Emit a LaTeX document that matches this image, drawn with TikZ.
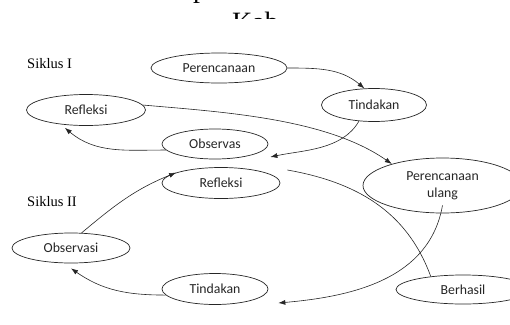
\documentclass[tikz,border=0pt]{standalone}
\usepackage{fontspec}
\setmainfont{Liberation Serif}
\newfontfamily\stagefont{Carlito}
\usepackage{tikz}
\usetikzlibrary{arrows.meta,shapes.geometric,positioning}

\begin{document}
\begin{tikzpicture}[x=1pt, y=1pt,
    stage/.style={ellipse, draw=black!85, text=black!85, line width=0.7pt, inner sep=0pt, align=center,
                  font=\stagefont\fontsize{13.8}{17}\selectfont},
    flow/.style={-{Latex[length=7pt,width=5pt]}, draw=black!85, line width=0.6pt}]
    \useasboundingbox (0,0) rectangle (510,-324);

    % title lines, cut off at the top
    \node (titleA) [anchor=base west, inner sep=0pt, font=\fontsize{28}{30}\selectfont] at (193,2) {p};
    \begin{scope}
      \clip (0,0) rectangle (510,-18);
      \node (titleB) [anchor=base west, inner sep=0pt, font=\fontsize{28}{30}\selectfont] at (232,-31.5) {Kab};
    \end{scope}

    \node (siklusA) [anchor=base west, inner sep=0pt, font=\fontsize{14.5}{17}\selectfont] at (27,-68) {Siklus I};
    \node (siklusB) [anchor=base west, inner sep=0pt, font=\fontsize{14.5}{17}\selectfont] at (27,-206) {Siklus II};

    \node (perencanaan) [stage, minimum width=136pt, minimum height=30pt] at (219,-68) {Perencanaan};
    \node (tindakanA) [stage, minimum width=105pt, minimum height=33pt] at (374,-105) {Tindakan};
    \node (refleksiA) [stage, minimum width=119pt, minimum height=31pt] at (86,-110) {Refleksi};
    \node (observasA) [stage, minimum width=106pt, minimum height=30pt] at (215,-144) {Observas};
    \node (refleksiB) [stage, minimum width=118pt, minimum height=31pt] at (221,-183) {Refleksi};
    \node (ulang) [stage, minimum width=159pt, minimum height=55pt] at (442.5,-185.5) {Perencanaan\\ulang};
    \node (observasiB) [stage, minimum width=118pt, minimum height=30pt] at (71,-248) {Observasi};
    \node (tindakanB) [stage, minimum width=106pt, minimum height=31pt] at (215,-289) {Tindakan};
    \node (berhasil) [stage, minimum width=134pt, minimum height=29pt] at (463,-289.5) {Berhasil};

    % siklus I
    \draw [flow] (perencanaan.east) to[out=0, in=140] (tindakanA.120);
    \draw [flow] (tindakanA.227) to[out=240, in=12, looseness=0.9] ([shift={(2pt,-13pt)}]observasA.east);
    \draw [flow] (observasA.187) to[out=180, in=-40] ([yshift=-3pt]refleksiA.215);
    \draw [flow] (refleksiA.5) to[out=-5, in=145, looseness=0.8] (ulang.157);

    % siklus II
    \draw [flow] ([yshift=8pt]ulang.south) to[out=-100, in=5] ([shift={(10pt,-14pt)}]tindakanB.east);
    \draw [flow] (tindakanB.187) to[out=180, in=-35] ([yshift=-5pt]observasiB.south);
    \draw [flow] (observasiB.55) to[out=40, in=202] (refleksiB.167);
    \draw [line width=0.6pt, black!85] (berhasil.158) to[out=110, in=-10] ([shift={(7pt,13pt)}]refleksiB.east);
\end{tikzpicture}
\end{document}
